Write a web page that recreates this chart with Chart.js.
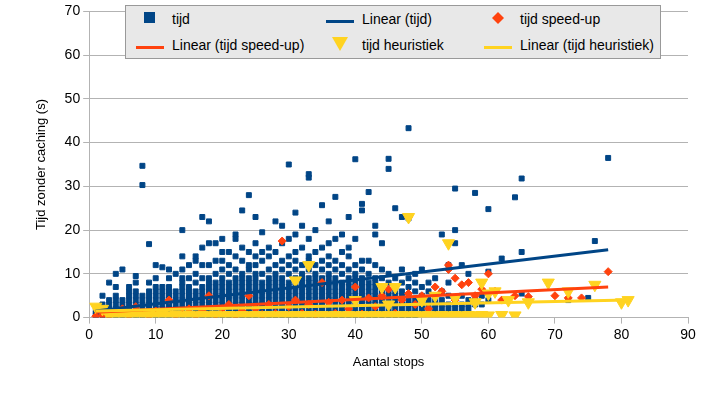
<!DOCTYPE html>
<html>
<head>
<meta charset="utf-8">
<script src="https://cdn.jsdelivr.net/npm/chart.js@4"></script>
<style>
  body { margin: 0; background: #fff; font-family: "Liberation Sans", Arial, sans-serif; }
  #wrap { position: relative; width: 712px; height: 400px; }
  #legend { position: absolute; left: 125px; top: 5px; width: 534px; height: 52px; background: #e8e8e8; border: 1px solid #999;
    display: grid; grid-template-columns: 190px 158px 186px; grid-template-rows: 26px 26px; font-size: 14px; color: #000; white-space: nowrap; }
  .it { display: flex; align-items: center; padding-left: 10px; }
  .it span.m { display: inline-block; width: 28px; margin-right: 8px; text-align: center; }
</style>
</head>
<body>
<div id="wrap">
  <canvas id="chart" width="712" height="400"></canvas>
  <div id="legend">
    <div class="it"><span class="m"><svg width="12" height="12"><rect width="11" height="11" fill="#004586"/></svg></span>tijd</div>
    <div class="it"><span class="m"><svg width="28" height="4"><rect width="28" height="3" fill="#004586"/></svg></span>Linear (tijd)</div>
    <div class="it"><span class="m"><svg width="12" height="12"><polygon points="6,0 12,6 6,12 0,6" fill="#ff420e"/></svg></span>tijd speed-up</div>
    <div class="it"><span class="m"><svg width="28" height="4"><rect width="28" height="3" fill="#ff420e"/></svg></span>Linear (tijd speed-up)</div>
    <div class="it"><span class="m"><svg width="16" height="14"><polygon points="0,0 16,0 8,14" fill="#ffd320"/></svg></span>tijd heuristiek</div>
    <div class="it"><span class="m"><svg width="28" height="4"><rect width="28" height="3" fill="#ffd320"/></svg></span>Linear (tijd heuristiek)</div>
  </div>
</div>
<script>
// tijd: y values per x (index = aantal stops)
var tijdCols = [
  [],
  [0.5, 1, 1.5],
  [0.5, 1, 2, 3, 5],
  [0.5, 1, 2, 3, 4, 8],
  [0.5, 1, 2, 3, 4, 5, 7, 10],
  [0.5, 1, 2, 3, 4, 11],
  [0.5, 1, 1.5, 2, 3, 4, 5, 6, 7],
  [0.5, 1, 2, 3, 4, 5, 6, 8, 9.5],
  [0.5, 1, 2, 3, 4, 5, 30.3, 34.7],
  [0.5, 1, 1.5, 2, 3, 4, 5, 6, 8, 16.8],
  [0.5, 1, 2, 3, 4, 5, 6, 7, 9, 12],
  [0.5, 1, 2, 3, 4, 5, 6, 7, 11.5],
  [0.5, 1, 2, 3, 4, 5, 6, 7, 9, 11],
  [0.5, 1, 2, 3, 4, 5, 6, 10],
  [0.5, 1, 2, 3, 4, 5, 6, 7, 8, 9, 11, 14, 20],
  [0.5, 1, 2, 3, 4, 5, 6, 7, 9, 12],
  [0.5, 1, 2, 3, 4, 5, 6, 8, 10, 13, 14],
  [0.5, 1, 2, 3, 4, 5, 6, 7, 9, 12, 16, 23],
  [0.5, 1, 2, 3, 4, 5, 6, 7, 8, 9, 12, 17, 22],
  [0.5, 1, 2, 3, 4, 5, 6, 7, 8, 10, 13, 17],
  [0.5, 1, 2, 3, 4, 5, 6, 7, 8, 9, 11, 13, 15, 18],
  [0.5, 1, 2, 3, 4, 5, 6, 7, 8, 10, 12, 15],
  [0.5, 1, 2, 3, 4, 5, 6, 7, 8, 9, 11, 14, 18, 19],
  [0.5, 1, 2, 3, 4, 5, 6, 7, 8, 9, 10, 13, 16, 24.5],
  [0.5, 1, 2, 3, 4, 5, 6, 7, 8, 9, 11, 12, 15, 28],
  [0.5, 1, 2, 3, 4, 5, 6, 7, 8, 9, 10, 12, 14, 17, 23],
  [0.5, 1, 2, 3, 4, 5, 6, 7, 8, 10, 13, 15, 19.5],
  [0.5, 1, 2, 3, 4, 5, 6, 7, 8, 9, 11, 14, 16],
  [0.5, 1, 2, 3, 4, 5, 6, 7, 8, 9, 10, 12, 15, 22],
  [0.5, 1, 2, 3, 4, 5, 6, 7, 8, 9, 11, 13, 17, 21],
  [0.5, 1, 2, 3, 4, 5, 6, 7, 8, 10, 12, 14, 18, 35],
  [0.5, 1, 2, 3, 4, 5, 6, 7, 8, 9, 11, 13, 15, 19, 24],
  [0.5, 1, 2, 3, 4, 5, 6, 7, 8, 9, 10, 12, 16, 21],
  [0.5, 1, 2, 3, 4, 5, 6, 7, 8, 9, 11, 13, 14, 18, 32, 32.8],
  [0.5, 1, 2, 3, 4, 5, 6, 7, 8, 9, 10, 12, 15, 20],
  [0.5, 1, 2, 3, 4, 5, 6, 7, 8, 9, 11, 13, 16, 25.7],
  [0.5, 1, 2, 3, 4, 5, 6, 7, 8, 9, 10, 12, 14, 17, 22],
  [0.5, 1, 2, 3, 4, 5, 6, 7, 8, 9, 11, 13, 18, 27.6],
  [0.5, 1, 2, 3, 4, 5, 6, 7, 8, 10, 12, 15, 19],
  [0.5, 1, 2, 3, 4, 5, 6, 7, 8, 9, 11, 14, 16, 23],
  [0.5, 1, 2, 3, 4, 5, 6, 7, 8, 9, 10, 12, 18, 36.2],
  [0.5, 1, 2, 3, 4, 5, 6, 7, 8, 9, 11, 13, 24.5, 26],
  [0.5, 1, 2, 3, 4, 5, 6, 7, 8, 10, 13, 28.7],
  [0.5, 1, 2, 3, 4, 5, 6, 7, 8, 9, 12, 19, 21],
  [0.5, 1, 2, 3, 4, 5, 6, 7, 9, 11, 17],
  [0.5, 1, 2, 3, 4, 5, 6, 8, 10, 34, 36.3],
  [0.5, 1, 2, 3, 4, 5, 6, 7, 9, 25],
  [0.5, 1, 2, 3, 4, 5, 6, 8, 11, 23],
  [0.5, 1, 2, 3, 4, 5, 7, 9, 22.7, 43.3],
  [0.5, 1, 2, 3, 4, 6, 8, 10],
  [1, 2, 3, 4, 5, 7, 11],
  [1, 2, 3, 4, 6, 8],
  [1, 2, 3, 4, 5, 9],
  [1, 2, 3, 4, 6, 19],
  [1, 2, 3, 5, 8, 12],
  [2, 3, 4, 17, 20, 29.5],
  [2, 3, 5, 12],
  [2, 3, 4, 10],
  [3, 4, 28.5],
  [3, 5],
  [4, 10.5, 24.8],
  [],
  [13.5],
  [4],
  [27.5],
  [5.5, 15, 31.8],
  [], [], [], [], [], [],
  [4], [], [], [4.5], [17.5], [], [36.5]
];

var speedUp = [
  [1, 0.3], [2, 0.5], [3, 0.4], [5, 2], [6, 0.5], [7, 2.5], [8, 1], [9, 0.4], [10, 1.5], [12, 4], [13, 0.5],
  [14, 1], [15, 2], [16, 0.5], [17, 1.5], [18, 5], [19, 0.6], [20, 2], [21, 3], [22, 0.5], [23, 1.5],
  [24, 5], [25, 2], [26, 0.7], [27, 3], [28, 1], [29, 17.5], [30, 2.5], [31, 4], [32, 1], [33, 3],
  [34, 0.8], [35, 8], [36, 3.5], [37, 1], [38, 4], [39, 2], [40, 7], [41, 0.8], [42, 4.5], [43, 2.5],
  [44, 5], [45, 6.5], [46, 1], [47, 4], [48, 23], [48, 5.5], [49, 3], [50, 5], [51, 2], [52, 7],
  [53, 6], [54, 12], [54, 11], [55, 9], [55, 4], [56, 7.5], [57, 8], [58, 5], [59, 6.5], [60, 10],
  [61, 6], [62, 4], [64, 5], [66, 4.8], [70, 5], [72, 4.5], [74, 4.5], [78, 10.5]
];

var heuristiek = [
  [1, 2.5], [2, 2], [3, 0.5], [4, 0.5], [5, 0.6], [6, 0.5], [7, 0.7], [8, 0.5], [9, 0.6], [10, 0.5],
  [11, 0.6], [12, 0.5], [13, 0.6], [14, 0.5], [15, 0.6], [16, 0.5], [17, 0.6], [18, 0.5], [19, 0.7],
  [20, 0.5], [21, 0.6], [22, 0.5], [23, 0.6], [24, 0.5], [25, 0.6], [26, 0.5], [27, 0.6], [28, 0.5],
  [29, 0.6], [30, 0.5], [31, 8.5], [31, 0.6], [32, 0.5], [33, 12], [33, 0.6], [34, 0.5], [35, 0.6],
  [36, 0.5], [37, 0.6], [38, 0.5], [39, 0.6], [40, 4], [40, 0.5], [41, 0.6], [42, 0.5], [43, 0.6],
  [44, 7], [44, 0.5], [45, 3], [45, 0.6], [46, 7], [46, 0.5], [47, 0.6], [48, 23], [48, 0.5], [49, 0.6],
  [50, 4], [50, 0.5], [51, 0.6], [52, 5], [52, 0.5], [53, 0.6], [54, 17], [54, 0.5], [55, 4.5],
  [55, 0.6], [56, 0.5], [57, 0.6], [58, 3.5], [58, 0.5], [59, 8], [59, 0.6], [60, 5.5], [60, 0.5],
  [61, 6], [62, 0.6], [63, 4], [64, 0.5], [66, 3.5], [69, 8], [72, 6], [76, 7.5], [80, 3.5], [81, 4]
];

// trend lines (start and end)
var tijdLine = [[1, 1.5], [78, 15.5]];
var speedUpLine = [[1, 1.2], [78, 7]];
var heuristiekLine = [[1, 1.5], [81, 4]];

var xTicks = [0, 10, 20, 30, 40, 50, 60, 70, 80, 90];

function toXY(list) {
  return list.map(function (p) { return { x: p[0], y: p[1] }; });
}

var tijdPoints = [];
tijdCols.forEach(function (ys, x) {
  ys.forEach(function (y) { tijdPoints.push({ x: x, y: y }); });
});

new Chart(document.getElementById("chart").getContext("2d"), {
  type: "scatter",
  data: {
    datasets: [
      { label: "Linear (tijd heuristiek)", type: "line", data: toXY(heuristiekLine), borderColor: "#ffd320", borderWidth: 3, pointRadius: 0, order: 0 },
      { label: "Linear (tijd speed-up)", type: "line", data: toXY(speedUpLine), borderColor: "#ff420e", borderWidth: 3, pointRadius: 0, order: 0 },
      { label: "Linear (tijd)", type: "line", data: toXY(tijdLine), borderColor: "#004586", borderWidth: 3, pointRadius: 0, order: 0 },
      { label: "tijd heuristiek", data: toXY(heuristiek), pointStyle: "triangle", rotation: 180, pointRadius: 7,
        backgroundColor: "#ffd320", borderColor: "#ffd320", order: 1 },
      { label: "tijd speed-up", data: toXY(speedUp), pointStyle: "rectRot", pointRadius: 4,
        backgroundColor: "#ff420e", borderColor: "#ff420e", order: 2 },
      { label: "tijd", data: tijdPoints, pointStyle: "rect", pointRadius: 3.5,
        backgroundColor: "#004586", borderColor: "#004586", order: 3 }
    ]
  },
  options: {
    responsive: false,
    animation: false,
    layout: { padding: { left: 30, right: 24, top: 6, bottom: 26 } },
    plugins: { legend: { display: false }, tooltip: { enabled: false } },
    scales: {
      x: {
        min: 0, max: 90,
        afterBuildTicks: function (axis) { axis.ticks = xTicks.map(function (v) { return { value: v }; }); },
        grid: { display: true, drawOnChartArea: false, color: "#b3b3b3", tickLength: 6 },
        border: { color: "#b3b3b3" },
        ticks: { color: "#000", font: { family: "Liberation Sans", size: 14 } },
        title: { display: true, text: "Aantal stops", color: "#000", font: { family: "Liberation Sans", size: 13 }, padding: { top: 8 } }
      },
      y: {
        min: 0, max: 70,
        ticks: { stepSize: 10, color: "#000", font: { family: "Liberation Sans", size: 14 } },
        grid: { color: "#b3b3b3", tickLength: 6 },
        border: { color: "#b3b3b3" },
        title: { display: true, text: "Tijd zonder caching (s)", color: "#000", font: { family: "Liberation Sans", size: 13 }, padding: { bottom: 12 } }
      }
    }
  }
});
</script>
</body>
</html>
